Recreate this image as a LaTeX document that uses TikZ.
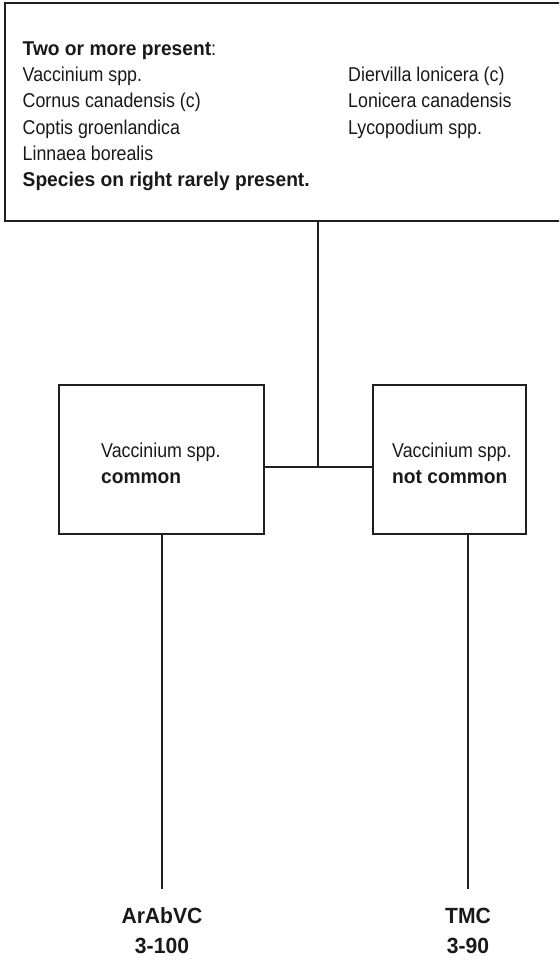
\documentclass[tikz,border=0pt]{standalone}
\usepackage{fontspec}
\setmainfont{Liberation Sans}[FakeStretch=0.89, BoldFeatures={FakeStretch=0.96}]
\begin{document}
\begin{tikzpicture}[x=1pt, y=-1pt,
  frame/.style={draw=black!88, line width=1.8pt, rectangle, inner sep=0pt},
  link/.style={draw=black!88, line width=1.8pt},
  txt/.style={anchor=base west, inner sep=0pt, text=black!90,
              font=\fontsize{20}{24}\selectfont},
  lbl/.style={anchor=base, inner sep=0pt, text=black!90,
              font=\fontsize{22}{26}\selectfont\bfseries}]
\clip (0,0) rectangle (559,965);

% key box running off the right edge
\node[frame, minimum width=570pt, minimum height=218pt] (top) at (290,112) {};
\node[txt] (t0) at (22.5,55.5)  {\textbf{Two or more present}:};
\node[txt] (t1) at (22.5,81.7)  {Vaccinium spp.};
\node[txt] (t2) at (22.5,107.9) {Cornus canadensis (c)};
\node[txt] (t3) at (22.5,134.1) {Coptis groenlandica};
\node[txt] (t4) at (22.5,160.3) {Linnaea borealis};
\node[txt] (t5) at (22.5,186.5) {\textbf{Species on right rarely present.}};
\node[txt] (r1) at (348,81.7)  {Diervilla lonicera (c)};
\node[txt] (r2) at (348,107.9) {Lonicera canadensis};
\node[txt] (r3) at (348,134.1) {Lycopodium spp.};

% the two alternatives
\node[frame, minimum width=205pt, minimum height=149pt] (lbox) at (161.5,459.5) {};
\node[frame, minimum width=153pt, minimum height=149pt] (rbox) at (449.5,459.5) {};
\node[txt] (l1) at (101,457) {Vaccinium spp.};
\node[txt] (l2) at (101,483) {\textbf{common}};
\node[txt] (q1) at (392,457) {Vaccinium spp.};
\node[txt] (q2) at (392,483) {\textbf{not common}};

% end units
\node[lbl] (a1) at (162,923) {ArAbVC};
\node[lbl] (a2) at (162,953) {3-100};
\node[lbl] (b1) at (468,923) {TMC};
\node[lbl] (b2) at (468,953) {3-90};

% connectors
\coordinate (j)  at (318,467);
\coordinate (la) at (162,889);
\coordinate (ra) at (468,889);
\draw[link] (top.south -| j) -- (j);
\draw[link] (lbox.east |- j) -- (rbox.west |- j);
\draw[link] (lbox.south -| la) -- (la);
\draw[link] (rbox.south -| ra) -- (ra);
\end{tikzpicture}
\end{document}
